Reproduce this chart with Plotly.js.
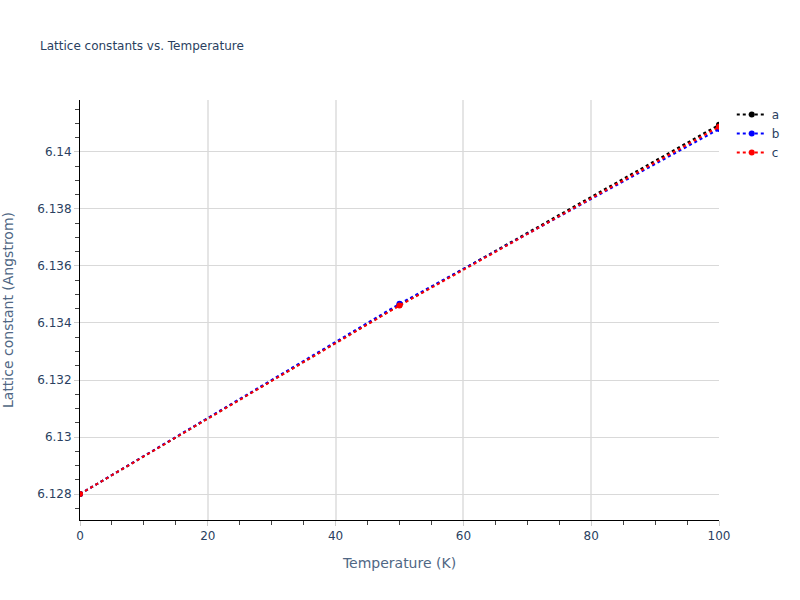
<!DOCTYPE html>
<html>
<head>
<meta charset="utf-8">
<script src="https://cdn.plot.ly/plotly-3.0.1.min.js"></script>
<style>
    html, body { margin: 0; padding: 0; background: #fff; }
    #chart { width: 800px; height: 600px; }
</style>
</head>
<body>
<div id="chart"></div>
<script>
// Temperatures (K) and lattice constants (Angstrom)
const temperatures = [0, 50, 100];
const latticeA = [6.12800, 6.13463, 6.14095];
const latticeB = [6.12800, 6.13467, 6.14080];
const latticeC = [6.12800, 6.13461, 6.14088];

const seriesNames = ['a', 'b', 'c'];
const seriesColors = ['black', 'blue', 'red'];

(function() {
    'use strict';

    const values = [latticeA, latticeB, latticeC];

    const traces = values.map((ys, i) => ({
        x: temperatures,
        y: ys,
        name: seriesNames[i],
        type: 'scatter',
        mode: 'lines+markers',
        line: { color: seriesColors[i], dash: 'dot', width: 2 },
        marker: { color: seriesColors[i], size: 6 }
    }));

    const layout = {
        width: 800,
        height: 600,
        margin: { l: 80, r: 81, t: 100, b: 80 },
        paper_bgcolor: 'white',
        plot_bgcolor: 'white',
        font: { family: '"DejaVu Sans", Verdana, sans-serif', color: '#2a3f5f', size: 12 },
        title: {
            text: 'Lattice constants vs. Temperature',
            font: { size: 12 },
            x: 0.05,
            y: 0.93
        },
        xaxis: {
            title: { text: 'Temperature (K)', font: { size: 14, color: '#506784' }, standoff: 15 },
            range: [0, 100],
            dtick: 20,
            showline: true,
            linecolor: 'black',
            linewidth: 1,
            gridcolor: '#e5e5e5',
            gridwidth: 2,
            ticks: 'outside',
            tickcolor: '#cccccc',
            zeroline: false,
            minor: { dtick: 5, ticks: 'outside', tickcolor: '#444', ticklen: 4, showgrid: false }
        },
        yaxis: {
            title: { text: 'Lattice constant (Angstrom)', font: { size: 14, color: '#506784' }, standoff: 22 },
            range: [6.12709, 6.14182],
            dtick: 0.002,
            showline: true,
            linecolor: 'black',
            linewidth: 1,
            gridcolor: '#d9d9d9',
            gridwidth: 1,
            ticks: 'outside',
            tickcolor: '#cccccc',
            zeroline: false,
            minor: { dtick: 0.0005, ticks: 'outside', tickcolor: '#444', ticklen: 4, showgrid: false }
        },
        legend: { x: 1.02, y: 1, font: { size: 12 } },
        showlegend: true
    };

    Plotly.newPlot('chart', traces, layout, { displayModeBar: false });
})();
</script>
</body>
</html>
